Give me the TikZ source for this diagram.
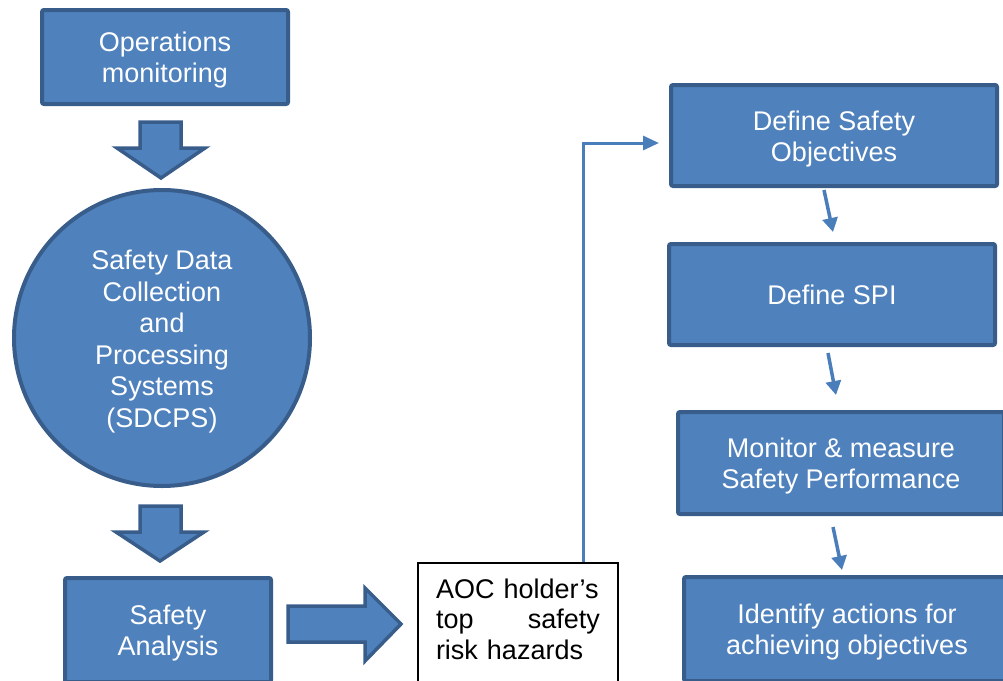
\documentclass[tikz,border=0pt]{standalone}
\usepackage{fontspec}
\setmainfont{Liberation Sans}
\usetikzlibrary{arrows.meta,calc}
\definecolor{boxfill}{HTML}{4F81BD}
\definecolor{boxline}{HTML}{385D8A}
\definecolor{linkblue}{HTML}{4A7EBB}
\newcommand\mystrut{\rule{0pt}{26pt}}
\begin{document}
\begin{tikzpicture}[x=1pt,y=-1pt,
  bluebox/.style={draw=boxline, fill=boxfill, line width=4pt, rounded corners=2pt,
    text=white, align=center, font=\fontsize{27}{31.5}\selectfont, inner sep=0pt},
  bluecircle/.style={circle, draw=boxline, fill=boxfill, line width=4pt,
    text=white, align=center, font=\fontsize{27}{31.5}\selectfont, inner sep=0pt},
  whitebox/.style={draw=black, fill=white, line width=1.3pt},
  plaintext/.style={text=black, font=\fontsize{27}{30.5}\selectfont, inner sep=0pt, align=left, text width=164pt},
  blockarrow/.style={draw=boxline, fill=boxfill, line width=3.5pt, line join=miter},
  thinlink/.style={draw=linkblue, line width=3.5pt, -{Triangle[length=14pt,width=15pt]}},
  longlink/.style={draw=linkblue, line width=3pt, -{Triangle[length=16pt,width=14pt]}}
]
\useasboundingbox (0,0) rectangle (1003,680);
\clip (0,0) rectangle (1003,680);

% left column
\node[bluebox, minimum width=246pt, minimum height=94pt] (ops) at (165,57) {\mystrut Operations\\monitoring};
\node[bluecircle, minimum size=296pt] (sdcps) at (162,338)
  {\rule{0pt}{27pt}Safety Data\\Collection\\and\\Processing\\Systems\\(SDCPS)};
\node[bluebox, minimum width=206pt, minimum height=104pt] (sa) at (168,630) {\mystrut Safety\\Analysis};

% AOC box
\node[whitebox, minimum width=200pt, minimum height=126pt] (aoc) at (518,626) {};
\node[plaintext] (aoct) at (518,619)
  {AOC holder’s\\\makebox[164pt]{top\hfill safety}\\risk hazards};

% right column
\node[bluebox, minimum width=326pt, minimum height=101pt] (obj) at (834,135.5) {\rule{0pt}{27pt}Define Safety\\Objectives};
\node[bluebox, minimum width=326pt, minimum height=101pt] (spi) at (832,294.5) {Define SPI};
\node[bluebox, minimum width=326pt, minimum height=102pt] (mon) at (841,463) {\mystrut Monitor \& measure\\Safety Performance};
\node[bluebox, minimum width=326pt, minimum height=104pt] (act) at (847,629) {\mystrut Identify actions for\\achieving objectives};

% block arrows
\draw[blockarrow] (140,122) -- (181,122) -- (181,148) -- (205,148) -- (161,178)
  -- (117,148) -- (140,148) -- cycle;
\draw[blockarrow] (140,506) -- (181,506) -- (181,532) -- (204,532) -- (160,561)
  -- (116,532) -- (140,532) -- cycle;
\draw[blockarrow] (288,606) -- (365,606) -- (365,588) -- (401,624) -- (365,661)
  -- (365,642) -- (288,642) -- cycle;

% connector from AOC to Define Safety Objectives
\coordinate (bend) at (583,143);
\coordinate (objin) at (659,143);
\draw[longlink] (bend |- aoc.north) -- (bend) -- (objin);

% thin arrows between right boxes
\coordinate (a1s) at (824,190); \coordinate (a1e) at (833,232);
\coordinate (a2s) at (828,353); \coordinate (a2e) at (836,395);
\coordinate (a3s) at (833,527); \coordinate (a3e) at (842,570);
\draw[thinlink] (a1s) -- (a1e);
\draw[thinlink] (a2s) -- (a2e);
\draw[thinlink] (a3s) -- (a3e);
\end{tikzpicture}
\end{document}
